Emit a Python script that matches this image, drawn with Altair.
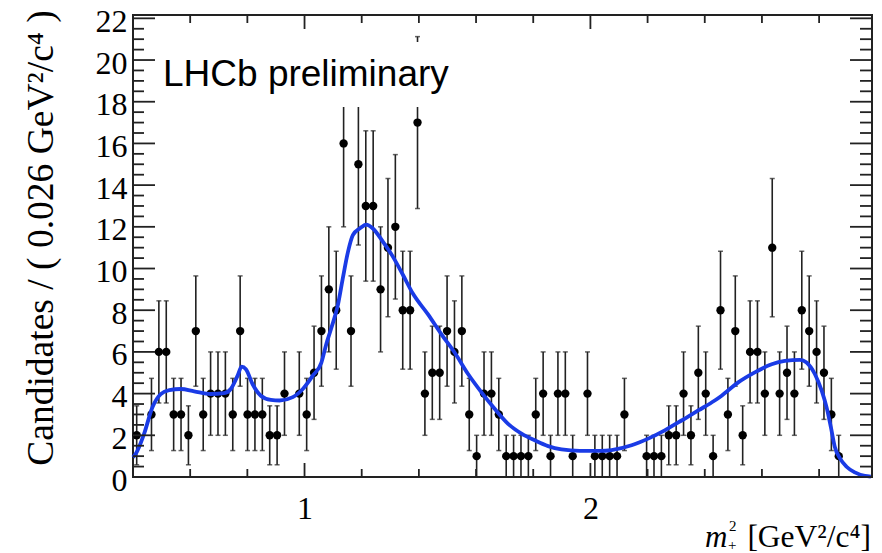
import altair as alt
import pandas as pd
import numpy as np

# ---------------- data ----------------
X_MIN, X_MAX = 0.400, 2.985
Y_MAX = 22.16
BIN_WIDTH = 0.02585

counts = [2, 0, 3, 6, 6, 3, 3, 2, 7, 3,
          4, 4, 4, 3, 7, 3, 3, 3, 2, 2,
          4, 0, 4, 3, 5, 7, 9, 8, 16, 7,
          15, 13, 13, 9, 11, 12, 8, 8, 17, 4,
          5, 5, 7, 6, 7, 3, 1, 4, 4, 3,
          1, 1, 1, 1, 3, 4, 1, 4, 4, 1,
          0, 4, 1, 1, 1, 1, 3, 0, 0, 1,
          1, 1, 2, 2, 4, 2, 5, 4, 1, 8,
          3, 7, 2, 6, 6, 4, 11, 4, 5, 4,
          8, 7, 6, 5, 3, 1, 0, 0, 0, 0]

curve_x = [0.400, 0.409, 0.439, 0.468, 0.497, 0.527, 0.567, 0.614, 0.672, 0.719,
           0.742, 0.766, 0.780, 0.795, 0.818, 0.847, 0.882, 0.913, 0.959, 0.994,
           1.029, 1.059, 1.076, 1.094, 1.117, 1.134, 1.152, 1.169, 1.193, 1.216,
           1.239, 1.274, 1.309, 1.344, 1.379, 1.432, 1.479, 1.525, 1.572, 1.619,
           1.665, 1.712, 1.759, 1.805, 1.852, 1.899, 1.963, 2.033, 2.074, 2.144,
           2.202, 2.260, 2.319, 2.377, 2.435, 2.459, 2.517, 2.575, 2.634, 2.680,
           2.733, 2.756, 2.785, 2.809, 2.826, 2.841, 2.855, 2.873, 2.896, 2.925,
           2.960, 2.981]
curve_y = [0.95, 1.10, 2.08, 3.35, 3.98, 4.17, 4.22, 4.11, 3.98, 4.02,
           4.22, 4.86, 5.29, 5.17, 4.46, 3.90, 3.70, 3.67, 3.83, 4.22,
           4.86, 5.49, 6.37, 7.16, 8.27, 9.54, 10.8, 11.6, 11.92, 12.11,
           11.92, 11.29, 10.57, 9.70, 8.80, 7.80, 6.84, 5.97, 4.94, 4.06,
           3.27, 2.55, 2.08, 1.76, 1.48, 1.32, 1.25, 1.25, 1.29, 1.52,
           1.84, 2.24, 2.71, 3.19, 3.67, 3.90, 4.54, 5.02, 5.41, 5.57,
           5.62, 5.49, 4.94, 4.14, 3.35, 2.40, 1.44, 0.89, 0.49, 0.22,
           0.05, 0.02]

x_major_ticks = [1.0, 2.0]
x_minor_ticks = [0.6, 0.8, 1.2, 1.4, 1.6, 1.8, 2.2, 2.4, 2.6, 2.8]
y_major_ticks = [0, 2, 4, 6, 8, 10, 12, 14, 16, 18, 20, 22]
y_minor_ticks = [v / 2 for v in range(1, 45) if v % 4 != 0]

# ---------------- frames ----------------
centers = [X_MIN + BIN_WIDTH * (i + 0.5) for i in range(len(counts))]
df = pd.DataFrame({"x": centers, "n": counts})
df = df[df["n"] > 0].copy()
df["lo"] = df["n"] - np.sqrt(df["n"])
df["hi"] = df["n"] + np.sqrt(df["n"])
curve = pd.DataFrame({"x": curve_x, "y": curve_y})
one = pd.DataFrame({"a": [0]})

W, H = 739, 462
SERIF = "Liberation Serif"

xs = alt.Scale(domain=[X_MIN, X_MAX], nice=False, zero=False)
ys = alt.Scale(domain=[0, Y_MAX], nice=False, zero=True)

x_axis = alt.Axis(values=x_major_ticks, ticks=False, tickSize=0, domain=False, grid=False,
                  labelFont=SERIF, labelFontSize=32, labelColor="black",
                  labelPadding=16, labelFlush=False, labelOverlap=False,
                  format="d", title=None)
y_axis = alt.Axis(values=y_major_ticks, ticks=False, tickSize=0, domain=False, grid=False,
                  labelFont=SERIF, labelFontSize=32, labelColor="black",
                  labelPadding=6, labelFlush=False, labelOverlap=False,
                  labelOffset=3, title=None)

base = alt.Chart(df)

errbars = base.mark_rule(color="#222222", strokeWidth=1.6).encode(
    x=alt.X("x:Q", scale=xs, axis=x_axis),
    y=alt.Y("lo:Q", scale=ys, axis=y_axis),
    y2="hi:Q",
)
caps_hi = base.mark_tick(orient="horizontal", size=5, thickness=1.5, color="#222222").encode(
    x=alt.X("x:Q", scale=xs), y=alt.Y("hi:Q", scale=ys))
caps_lo = base.mark_tick(orient="horizontal", size=5, thickness=1.5, color="#222222").encode(
    x=alt.X("x:Q", scale=xs), y=alt.Y("lo:Q", scale=ys))
points = base.mark_circle(size=70, color="black", opacity=1).encode(
    x=alt.X("x:Q", scale=xs), y=alt.Y("n:Q", scale=ys))

fit = alt.Chart(curve).mark_line(color="#1a3be6", strokeWidth=3.8, interpolate="monotone").encode(
    x=alt.X("x:Q", scale=xs), y=alt.Y("y:Q", scale=ys))

box = alt.Chart(one).mark_rect(color="white").encode(
    x=alt.value(22), x2=alt.value(320), y=alt.value(27), y2=alt.value(92))
label = alt.Chart(one).mark_text(align="left", baseline="alphabetic", font="Liberation Sans",
                                 fontSize=37, color="black").encode(
    x=alt.value(30), y=alt.value(71), text=alt.value("LHCb preliminary"))

def xticks(vals, length, top):
    d = pd.DataFrame({"t": vals})
    if top:
        yv, y2v = 0, length
    else:
        yv, y2v = H, H - length
    return alt.Chart(d).mark_rule(color="#222222", strokeWidth=1.8).encode(
        x=alt.X("t:Q", scale=xs), y=alt.value(yv), y2=alt.value(y2v))

def yticks(vals, length, right):
    d = pd.DataFrame({"t": vals})
    if right:
        xv, x2v = W, W - length
    else:
        xv, x2v = 0, length
    return alt.Chart(d).mark_rule(color="#222222", strokeWidth=1.8).encode(
        y=alt.Y("t:Q", scale=ys), x=alt.value(xv), x2=alt.value(x2v))

ticks = [
    xticks(x_major_ticks, 14, False), xticks(x_minor_ticks, 8, False),
    xticks(x_major_ticks, 14, True), xticks(x_minor_ticks, 8, True),
    yticks(y_major_ticks, 22, False), yticks(y_minor_ticks, 11, False),
    yticks(y_major_ticks, 22, True), yticks(y_minor_ticks, 12, True),
]

ytitle = alt.Chart(one).mark_text(angle=270, align="center", baseline="middle", font=SERIF,
                                  fontSize=37.5, color="black").encode(
    x=alt.value(-91), y=alt.value(223), text=alt.value("Candidates / ( 0.026 GeV²/c⁴ )"))

xt_m = alt.Chart(one).mark_text(align="left", baseline="alphabetic", font=SERIF, fontStyle="italic",
                                fontSize=31, color="black").encode(
    x=alt.value(572), y=alt.value(532), text=alt.value("m"))
xt_sup = alt.Chart(one).mark_text(align="left", baseline="alphabetic", font=SERIF,
                                  fontSize=15, color="black").encode(
    x=alt.value(596), y=alt.value(516), text=alt.value("2"))
xt_sub = alt.Chart(one).mark_text(align="left", baseline="alphabetic", font=SERIF,
                                  fontSize=15, color="black").encode(
    x=alt.value(595), y=alt.value(535), text=alt.value("+"))
xt_unit = alt.Chart(one).mark_text(align="right", baseline="alphabetic", font=SERIF,
                                   fontSize=31.5, color="black").encode(
    x=alt.value(738), y=alt.value(532), text=alt.value("[GeV²/c⁴]"))

chart = alt.layer(
    errbars, caps_hi, caps_lo, points, fit, box, label, *ticks,
    ytitle, xt_m, xt_sup, xt_sub, xt_unit,
).properties(
    width=W, height=H,
    autosize=alt.AutoSizeParams(type="none"),
    padding={"left": 133, "top": 15, "right": 10, "bottom": 76},
    background="white",
).configure_view(stroke="#222222", strokeWidth=2)

chart.save("out.html", embed_options={"renderer": "svg", "actions": False})
